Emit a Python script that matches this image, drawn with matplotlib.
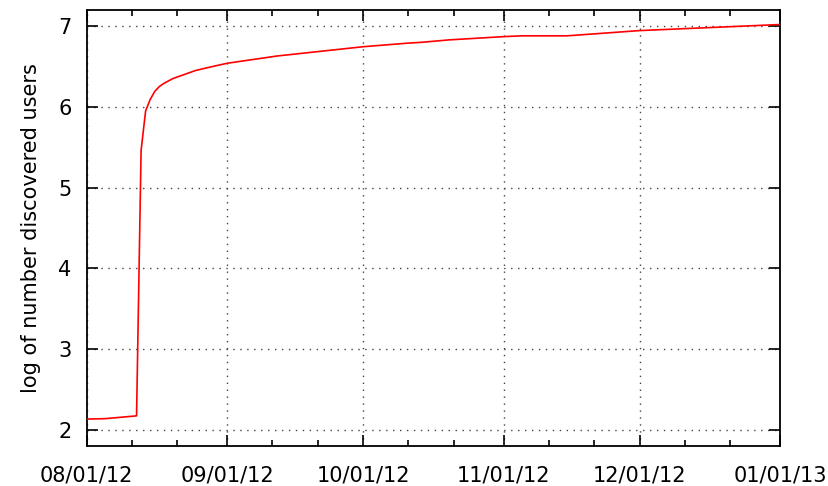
import matplotlib
matplotlib.use("Agg")
import matplotlib.pyplot as plt
import matplotlib.dates as mdates
import numpy as np
from datetime import datetime, timedelta

# Data: days since 2012-08-01 and log of number of discovered users
day_offsets = [0, 4, 11, 12, 13, 14, 15, 16, 17, 18, 19, 20, 22, 24, 27, 31, 42, 61, 71, 74, 80, 92, 96, 106, 122, 153]
log_users = [2.13, 2.135, 2.17, 5.46, 5.95, 6.09, 6.19, 6.25, 6.29, 6.32, 6.35, 6.37, 6.41, 6.45, 6.49, 6.54,
             6.63, 6.745, 6.79, 6.80, 6.83, 6.87, 6.88, 6.88, 6.945, 7.02]

start_date = datetime(2012, 8, 1)
end_date = datetime(2013, 1, 1)
dates = [start_date + timedelta(days=d) for d in day_offsets]

y_ticks = [2, 3, 4, 5, 6, 7]
y_label = "log of number discovered users"

plt.rcParams['font.family'] = ['DejaVu Sans']

fig = plt.figure(figsize=(8.29, 4.86), dpi=100)
ax = fig.add_axes([0.1046, 0.0829, 0.9409 - 0.1046, 0.9794 - 0.0829])

ax.plot(dates, log_users, color='#ff0000', lw=1.2, zorder=3)

ax.set_xlim(start_date, end_date)
ax.set_ylim(1.8, 7.2)
ax.set_yticks(y_ticks)

ax.xaxis.set_major_locator(mdates.MonthLocator())
ax.xaxis.set_major_formatter(mdates.DateFormatter('%m/%d/%y'))
ax.xaxis.set_minor_locator(mdates.DayLocator(bymonthday=[11, 21]))

ax.grid(True, which='major', linestyle=(0, (1, 4)), color='#444444', lw=1.0)
ax.tick_params(which='both', direction='in', top=True, right=True, width=1.2, colors='black',
               labelsize=15)
ax.tick_params(which='major', length=8)
ax.tick_params(which='minor', length=4)
ax.tick_params(axis='x', pad=14)
ax.tick_params(axis='y', pad=11)

for s in ax.spines.values():
    s.set_linewidth(1.3)
    s.set_color('black')

ax.set_ylabel(y_label, fontsize=15, labelpad=12)

fig.savefig("out.png", dpi=100)
